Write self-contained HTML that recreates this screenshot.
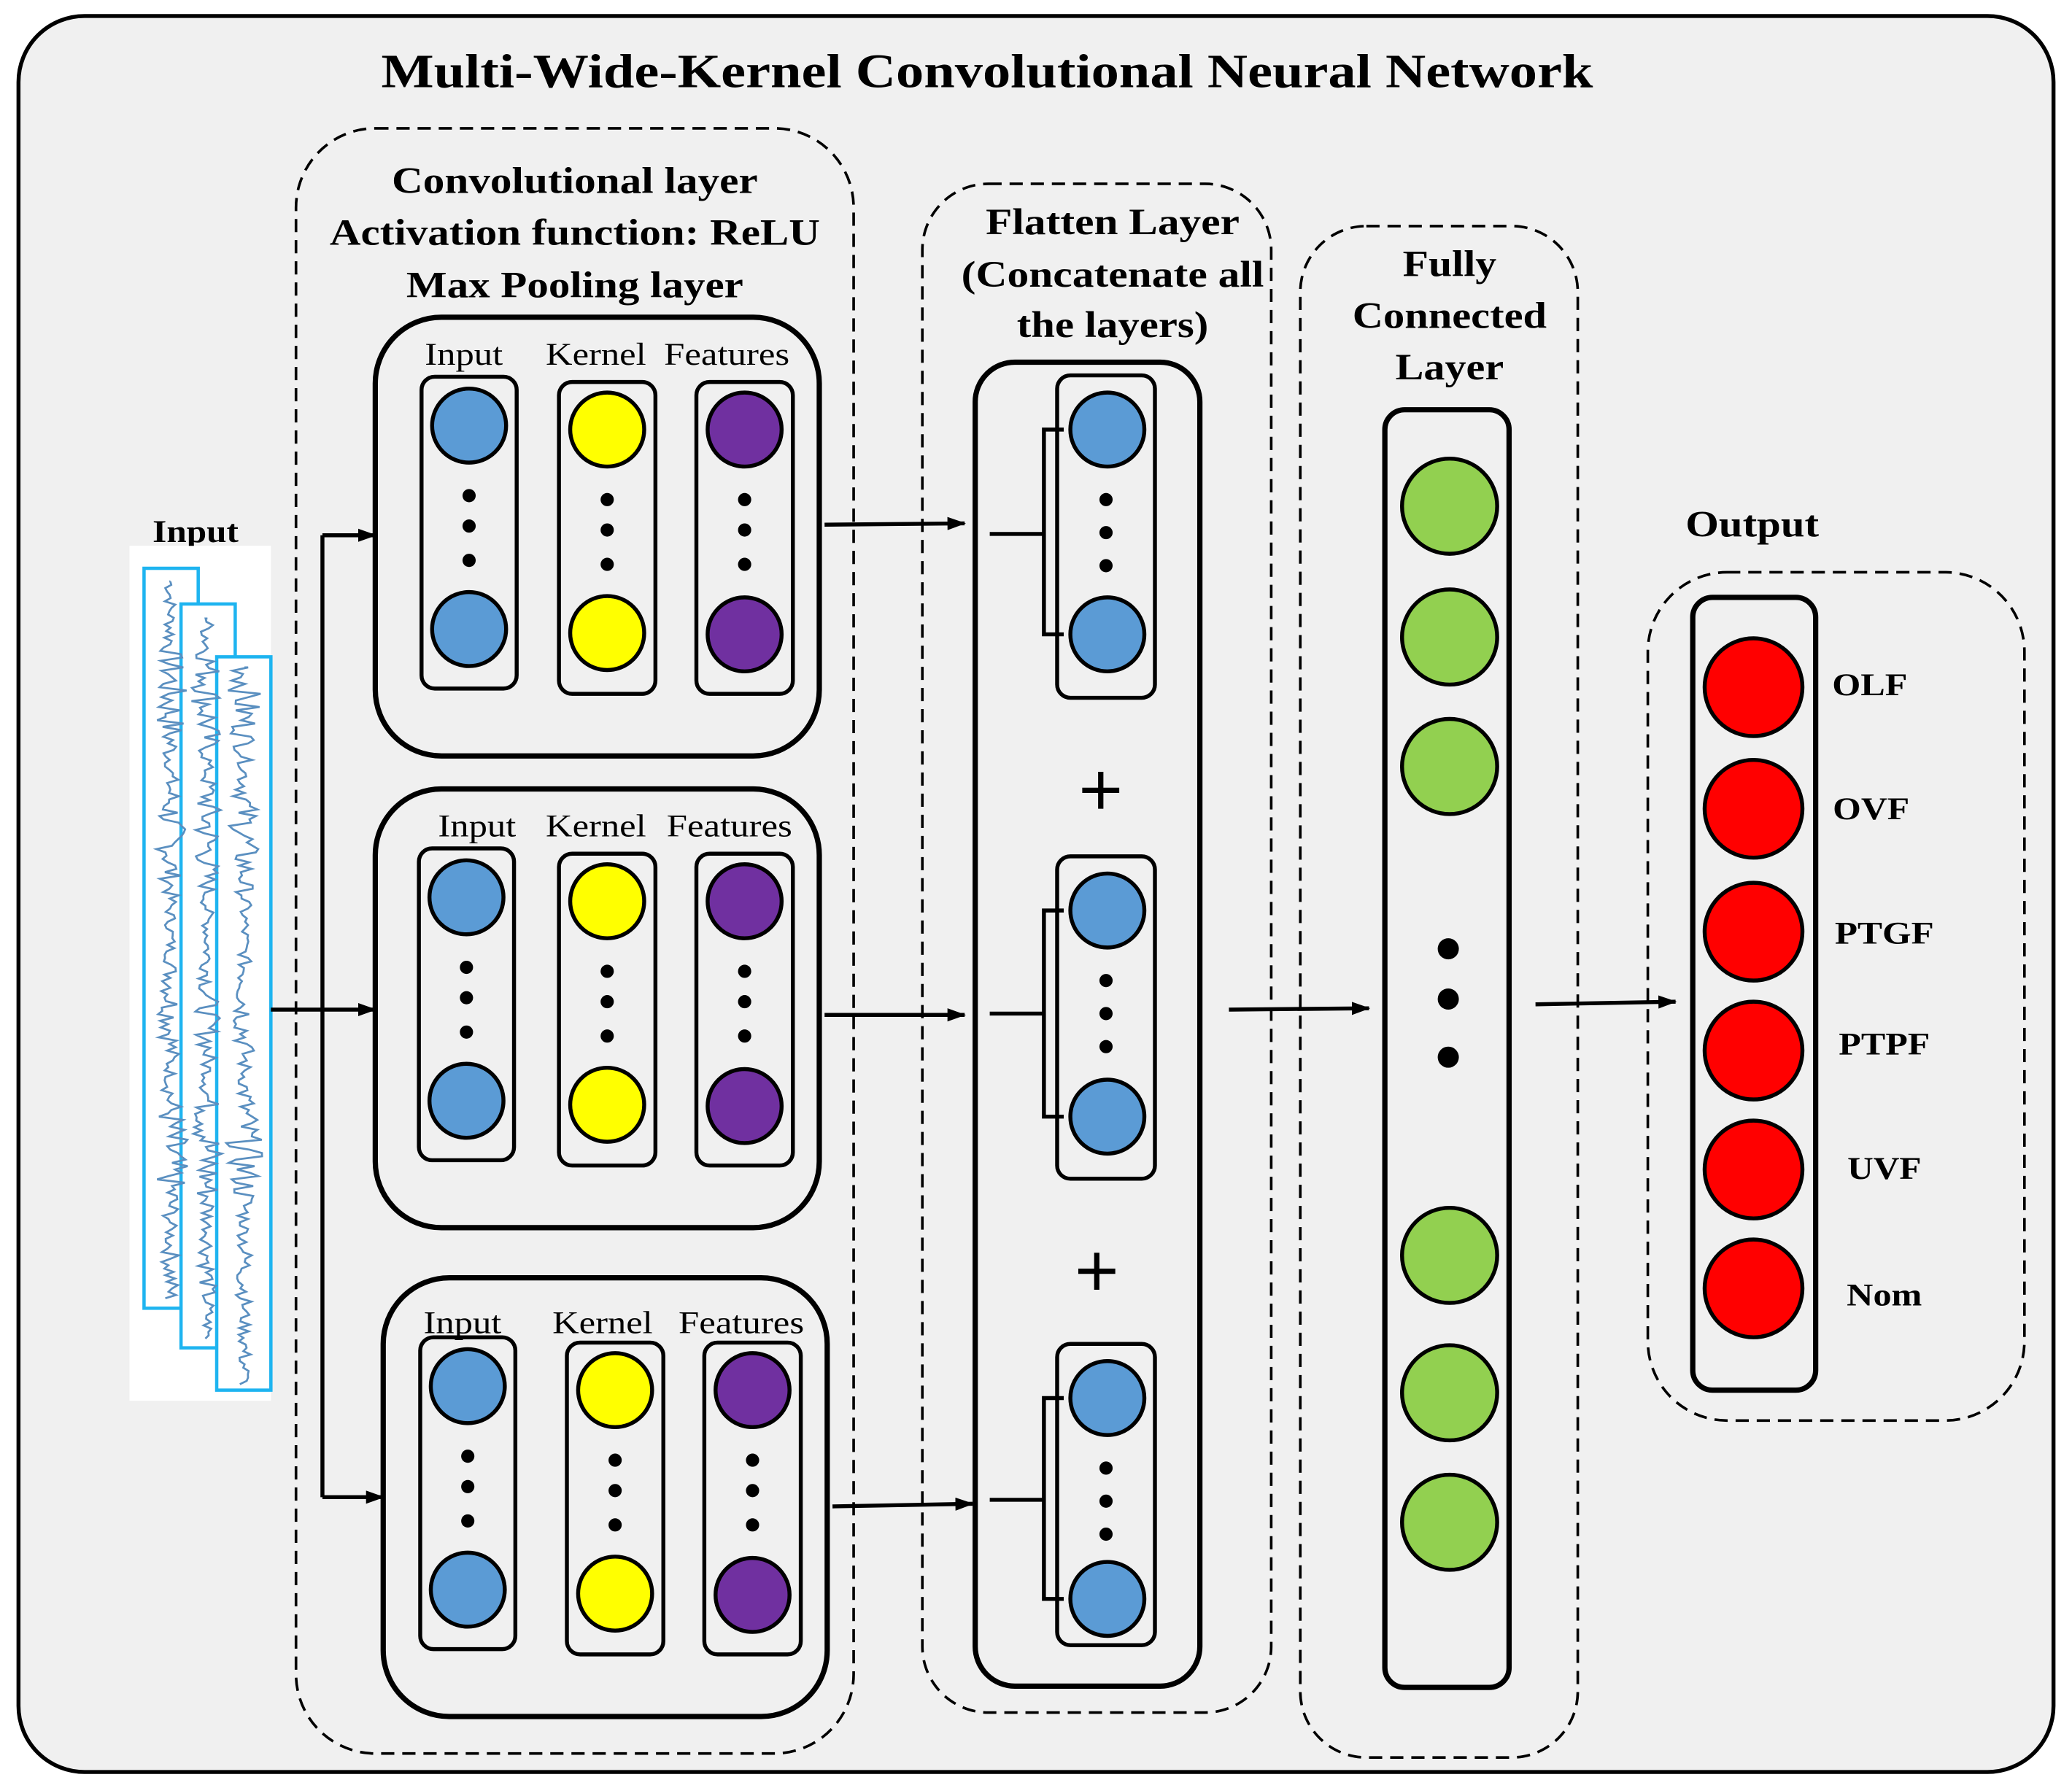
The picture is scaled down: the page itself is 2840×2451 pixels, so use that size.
<!DOCTYPE html>
<html><head><meta charset="utf-8"><style>html,body{margin:0;padding:0;background:#fff}svg{display:block}</style></head>
<body>
<svg id="s" width="2840" height="2451" viewBox="0 0 1568 1353" xmlns="http://www.w3.org/2000/svg" font-family="Liberation Serif, serif">
<defs><marker id="a" markerWidth="14" markerHeight="10" refX="13" refY="5" orient="auto" markerUnits="userSpaceOnUse"><path d="M0,0 L14,5 L0,10 z" fill="#000"/></marker></defs>
<rect x="14" y="12" width="1540" height="1329" rx="50" fill="#f0f0f0" stroke="#000" stroke-width="3"/>
<text x="747" y="66" font-size="36" font-weight="bold" text-anchor="middle" textLength="917" lengthAdjust="spacingAndGlyphs">Multi-Wide-Kernel Convolutional Neural Network</text>
<g fill="none" stroke="#000" stroke-width="2" stroke-dasharray="10,6">
<rect x="224" y="97" width="422" height="1230" rx="60"/>
<rect x="698" y="139" width="264" height="1157" rx="50"/>
<rect x="984" y="171" width="210" height="1159" rx="50"/>
<rect x="1247" y="433" width="285" height="642" rx="60"/>
</g>
<g font-size="28" font-weight="bold" text-anchor="middle" lengthAdjust="spacingAndGlyphs">
<text x="435" y="146" textLength="277" lengthAdjust="spacingAndGlyphs">Convolutional layer</text>
<text x="435" y="185" textLength="371" lengthAdjust="spacingAndGlyphs">Activation function: ReLU</text>
<text x="435" y="225" textLength="255" lengthAdjust="spacingAndGlyphs">Max Pooling layer</text>
<text x="842" y="177" textLength="192" lengthAdjust="spacingAndGlyphs">Flatten Layer</text>
<text x="842" y="217" textLength="229" lengthAdjust="spacingAndGlyphs">(Concatenate all</text>
<text x="842" y="255" textLength="145" lengthAdjust="spacingAndGlyphs">the layers)</text>
<text x="1097" y="209" textLength="71" lengthAdjust="spacingAndGlyphs">Fully</text>
<text x="1097" y="248" textLength="147" lengthAdjust="spacingAndGlyphs">Connected</text>
<text x="1097" y="287" textLength="82" lengthAdjust="spacingAndGlyphs">Layer</text>
<text x="1326" y="406" textLength="101" lengthAdjust="spacingAndGlyphs">Output</text>
<text x="148" y="410" font-size="24" textLength="65" lengthAdjust="spacingAndGlyphs">Input</text>
</g>
<rect x="98" y="413" width="107" height="647" fill="#fff"/>
<g fill="none" stroke="#1eb4f0" stroke-width="2.5">
<rect x="109" y="430" width="41" height="560"/>
<rect x="137" y="457" width="41" height="563" fill="#fff"/>
<rect x="164" y="497" width="41" height="555" fill="#fff"/>
</g>
<g id="wave2" fill="none" stroke="#5a8fc0" stroke-width="1.5"></g>
<g id="blocks"></g>
<g stroke="#000" stroke-width="3" fill="none">
<line x1="205" y1="764" x2="284" y2="764" marker-end="url(#a)"/>
<line x1="244" y1="405" x2="244" y2="1133"/>
<line x1="244" y1="405" x2="284" y2="405" marker-end="url(#a)"/>
<line x1="244" y1="1133" x2="290" y2="1133" marker-end="url(#a)"/>
<line x1="624" y1="397" x2="730" y2="396" marker-end="url(#a)"/>
<line x1="624" y1="768" x2="730" y2="768" marker-end="url(#a)"/>
<line x1="630" y1="1140" x2="736" y2="1138" marker-end="url(#a)"/>
<line x1="930" y1="764" x2="1036" y2="763" marker-end="url(#a)"/>
<line x1="1162" y1="760" x2="1268" y2="758" marker-end="url(#a)"/>
<rect x="738" y="274" width="170" height="1002" rx="30" stroke-width="4"/>
<rect x="1048" y="310" width="94" height="967" rx="15" stroke-width="4"/>
<rect x="1281" y="452" width="93" height="600" rx="15" stroke-width="4"/>
</g>
<g stroke="#000" stroke-width="4"><path d="M819,598 H847 M833,584 V612 M816,962 H844 M830,948 V976"/></g>
<g fill="#92d050" stroke="#000" stroke-width="3">
<circle cx="1097" cy="383" r="36"/><circle cx="1097" cy="482" r="36"/><circle cx="1097" cy="580" r="36"/>
<circle cx="1097" cy="950" r="36"/><circle cx="1097" cy="1054" r="36"/><circle cx="1097" cy="1152" r="36"/>
</g>
<g fill="#000"><circle cx="1096" cy="718" r="8"/><circle cx="1096" cy="756" r="8"/><circle cx="1096" cy="800" r="8"/></g>
<g fill="#ff0000" stroke="#000" stroke-width="3">
<circle cx="1327" cy="520" r="37"/><circle cx="1327" cy="612" r="37"/><circle cx="1327" cy="705" r="37"/>
<circle cx="1327" cy="795" r="37"/><circle cx="1327" cy="885" r="37"/><circle cx="1327" cy="975" r="37"/>
</g>
<g font-size="24" font-weight="bold" text-anchor="middle">
<text x="1415" y="526" textLength="57" lengthAdjust="spacingAndGlyphs">OLF</text>
<text x="1416" y="620" textLength="58" lengthAdjust="spacingAndGlyphs">OVF</text>
<text x="1426" y="714" textLength="75" lengthAdjust="spacingAndGlyphs">PTGF</text>
<text x="1426" y="798" textLength="69" lengthAdjust="spacingAndGlyphs">PTPF</text>
<text x="1426" y="892" textLength="56" lengthAdjust="spacingAndGlyphs">UVF</text>
<text x="1426" y="988" textLength="57" lengthAdjust="spacingAndGlyphs">Nom</text>
</g>
</svg>
<script>
var NS="http://www.w3.org/2000/svg";
function el(p,t,a,txt){var e=document.createElementNS(NS,t);for(var k in a)e.setAttribute(k,a[k]);if(txt)e.textContent=txt;p.appendChild(e);return e;}
var B=document.getElementById("blocks");
function col(x,y,w,h,c1,c2,fill){
 el(B,"rect",{x:x,y:y,width:w,height:h,rx:10,fill:"none",stroke:"#000","stroke-width":3});
 var cx=x+w/2;
 el(B,"circle",{cx:cx,cy:y+c1,r:28,fill:fill,stroke:"#000","stroke-width":3});
 el(B,"circle",{cx:cx,cy:y+c2,r:28,fill:fill,stroke:"#000","stroke-width":3});
 var d=[y+c1+53,y+c1+76,y+c1+102];
 d.forEach(function(v){el(B,"circle",{cx:cx,cy:v,r:5,fill:"#000"});});
}
function block(x,y,ly,off,lx){
 el(B,"rect",{x:x,y:y,width:336,height:332,rx:50,fill:"none",stroke:"#000","stroke-width":4});
 col(x+35-off,y+45,72,236,37,191,"#5b9bd5");
 col(x+139,y+49,73,236,36,190,"#ffff00");
 col(x+243,y+49,73,236,36,191,"#7030a0");
 [["Input",lx[0],59],["Kernel",lx[1],76],["Features",lx[2],95]].forEach(function(l){el(B,"text",{x:l[1],y:ly,"font-size":24,"text-anchor":"middle",textLength:l[2],lengthAdjust:"spacingAndGlyphs"},l[0]);});
}
block(284,240,276,0,[351,451,550]);block(284,597,633,2,[361,451,552]);block(290,967,1009,7,[350,456,561]);
function flat(y,h,c1,c2,by){
 el(B,"rect",{x:800,y:y,width:74,height:h,rx:10,fill:"none",stroke:"#000","stroke-width":3});
 el(B,"circle",{cx:838,cy:c1,r:28,fill:"#5b9bd5",stroke:"#000","stroke-width":3});
 el(B,"circle",{cx:838,cy:c2,r:28,fill:"#5b9bd5",stroke:"#000","stroke-width":3});
 [c1+53,c1+78,c1+103].forEach(function(v){el(B,"circle",{cx:837,cy:v,r:5,fill:"#000"});});
 el(B,"path",{d:"M749,"+by+" H790 M805,"+c1+" H790 V"+c2+" H805",fill:"none",stroke:"#000","stroke-width":3});
}
flat(284,244,325,480,404);flat(648,244,689,845,767);flat(1017,228,1058,1210,1135);
var W=document.getElementById("wave2");
var seed=7;function rnd(){seed=(seed*9301+49297)%233280;return seed/233280;}
function wave(cx,y0,y1,amp){
 var d="M"+cx+","+y0;
 for(var y=y0;y<y1;y+=2.5){var env=amp*(0.3+0.7*Math.abs(Math.sin(y/37)*Math.cos(y/91)));d+=" L"+(cx+(rnd()*2-1)*env).toFixed(1)+","+y;}
 el(W,"path",{d:d});
}
wave(129,440,985,14);wave(157,468,1015,14);wave(185,505,1048,14);
</script>
</body></html>
